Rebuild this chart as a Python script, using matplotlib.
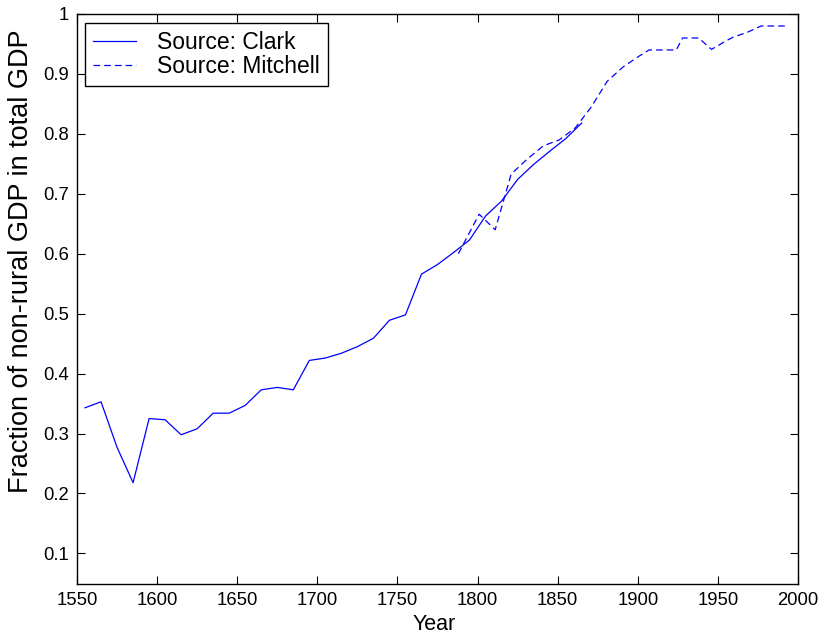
#!/usr/bin/env python3
"""Share of non-rural output in total GDP, 1550-2000, from two sources."""

import matplotlib
matplotlib.use("Agg")
import matplotlib.pyplot as plt

# Clark series, decade mid-points
clark_years = [1555, 1565, 1575, 1585, 1595, 1605, 1615, 1625, 1635, 1645,
               1655, 1665, 1675, 1685, 1695, 1705, 1715, 1725, 1735, 1745,
               1755, 1765, 1775, 1785, 1795, 1805, 1815, 1825, 1835, 1845,
               1855, 1865]
clark_share = [0.343, 0.353, 0.277, 0.218, 0.325, 0.323, 0.298, 0.308, 0.334, 0.334,
               0.347, 0.373, 0.377, 0.373, 0.422, 0.426, 0.434, 0.445, 0.459, 0.489,
               0.498, 0.566, 0.582, 0.602, 0.623, 0.663, 0.688, 0.724, 0.749, 0.771,
               0.792, 0.818]

# Mitchell series
mitchell_years = [1788, 1801, 1811, 1821, 1831, 1841, 1851, 1861, 1871, 1881,
                  1891, 1901, 1907, 1924, 1928, 1938, 1946, 1955, 1960, 1968,
                  1977, 1992]
mitchell_share = [0.600, 0.666, 0.640, 0.733, 0.758, 0.780, 0.790, 0.810, 0.845, 0.888,
                  0.912, 0.930, 0.940, 0.940, 0.960, 0.960, 0.941, 0.955, 0.962, 0.969,
                  0.980, 0.980]

x_ticks = list(range(1550, 2001, 50))
y_ticks = [0.1, 0.2, 0.3, 0.4, 0.5, 0.6, 0.7, 0.8, 0.9, 1.0]
y_tick_labels = ["0.1", "0.2", "0.3", "0.4", "0.5", "0.6", "0.7", "0.8", "0.9", "1"]


def draw_chart(path: str) -> None:
    """Plot both series in a boxed, MATLAB-style axes and save to path."""
    plt.rcParams["font.family"] = ["Liberation Sans", "DejaVu Sans"]
    plt.rcParams["lines.scale_dashes"] = False

    fig = plt.figure(figsize=(8.24, 6.4), dpi=100)
    ax = fig.add_axes([77 / 824, 56 / 640, 721 / 824, 570 / 640])

    ax.plot(clark_years, clark_share, color="#0000ff", linewidth=0.9,
            label="Source: Clark")
    ax.plot(mitchell_years, mitchell_share, color="#0000ff", linewidth=0.9,
            dashes=(4.8, 2.9), label="Source: Mitchell")

    ax.set_xlim(1550, 2000)
    ax.set_ylim(0.049, 1.0)
    ax.set_xticks(x_ticks)
    ax.set_yticks(y_ticks)
    ax.set_yticklabels(y_tick_labels)

    ax.tick_params(direction="in", length=6, width=0.8, top=True, right=True,
                   labelsize=13.3, pad=6, colors="black")
    for spine in ax.spines.values():
        spine.set_linewidth(1.0)

    ax.set_xlabel("Year", fontsize=15.5)
    ax.xaxis.set_label_coords(0.496, -0.052)
    ax.set_ylabel("Fraction of non-rural GDP in total GDP", fontsize=19.5)
    ax.yaxis.set_label_coords(-0.059, 0.567)

    leg = ax.legend(loc="upper left", bbox_to_anchor=(0.011, 0.985),
                    borderaxespad=0, fontsize=16.5, fancybox=False,
                    framealpha=1, edgecolor="black", handlelength=1.9,
                    handletextpad=0.9, borderpad=0.35, labelspacing=0.05)
    leg.get_frame().set_linewidth(1.0)

    fig.savefig(path, dpi=100)


def main() -> None:
    draw_chart("out.png")


if __name__ == "__main__":
    main()
